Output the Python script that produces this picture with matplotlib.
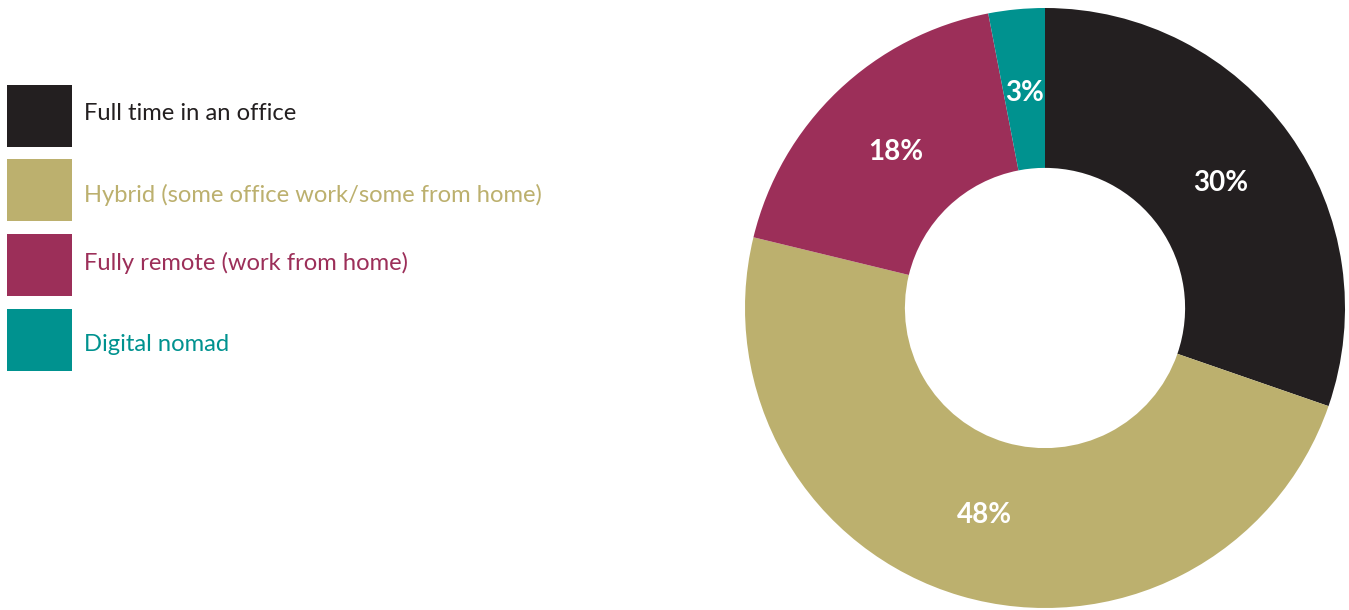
import matplotlib.pyplot as plt
from matplotlib.patches import Rectangle

# work arrangement shares (percent)
categories = ["Full time in an office",
              "Hybrid (some office work/some from home)",
              "Fully remote (work from home)",
              "Digital nomad"]
shares = [30, 48, 18, 3]
colors = ["#231f20", "#bcb06e", "#9c2f59", "#00928f"]
text_colors = ["#231f20", "#bcb06e", "#9c2f59", "#00928f"]

plt.rcParams['font.family'] = ['Lato', 'DejaVu Sans']

W, H = 1349, 610
fig = plt.figure(figsize=(W / 100, H / 100), dpi=100)

# donut
ax = fig.add_axes([745 / W, 2 / H, 600 / W, 600 / H])
wedges, texts, autotexts = ax.pie(
    shares, colors=colors, startangle=90, counterclock=False,
    radius=1.0, wedgeprops=dict(width=0.533, linewidth=0),
    autopct=lambda p: "", pctdistance=0.72)
for t, v in zip(autotexts, shares):
    t.set_text(f"{v}%")
    t.set_color("white")
    t.set_fontsize(20)
    t.set_fontweight("bold")
ax.set_xlim(-1, 1)
ax.set_ylim(-1, 1)
ax.set_aspect("equal")
ax.axis("off")

# legend drawn as swatches + labels in pixel space
lax = fig.add_axes([0, 0, 1, 1])
lax.set_xlim(0, W)
lax.set_ylim(H, 0)
lax.axis("off")
box_tops = [85, 159, 234, 309]
baselines = [120, 202, 270, 351]
for top, by, lab, c, tc in zip(box_tops, baselines, categories, colors, text_colors):
    lax.add_patch(Rectangle((7, top), 65, 62, facecolor=c, edgecolor="none"))
    lax.text(84, by, lab, color=tc, fontsize=17.1, fontweight="normal",
             va="baseline", ha="left")

fig.savefig("out.png", dpi=100)
